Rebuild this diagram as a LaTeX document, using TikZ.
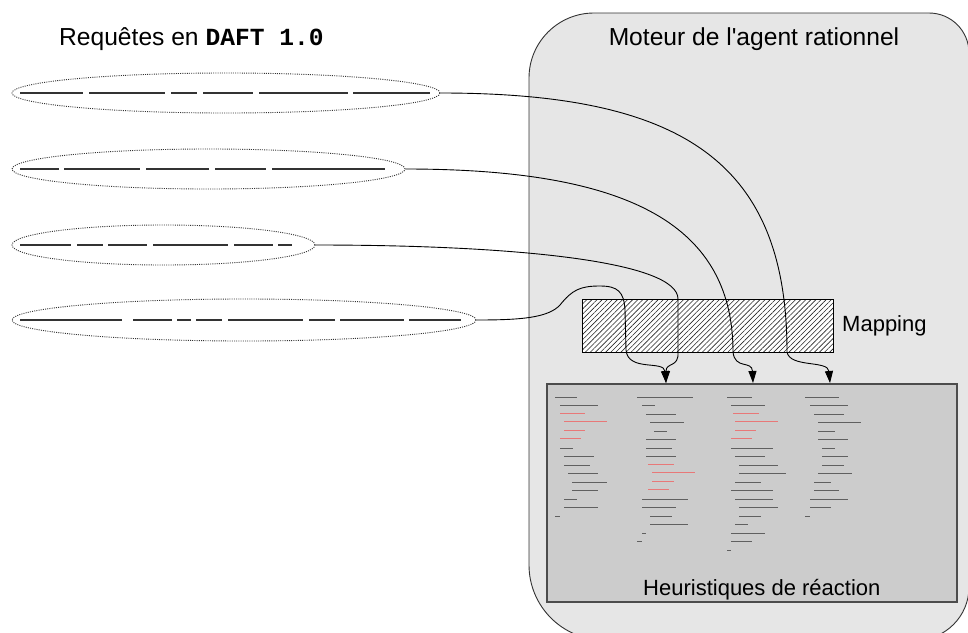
\documentclass[tikz,border=0pt]{standalone}
\usepackage{fontspec}
\setmainfont{Liberation Sans}[Ligatures=TeXOff]
\newfontfamily\monob{Liberation Mono}
\usetikzlibrary{shapes.geometric,patterns.meta,arrows.meta}
\definecolor{engfill}{HTML}{E6E6E6}
\definecolor{heurfill}{HTML}{CCCCCC}
\definecolor{codegray}{HTML}{606060}
\definecolor{codered}{HTML}{E87878}
\definecolor{qcol}{HTML}{333333}
\begin{document}
\begin{tikzpicture}[x=1pt,y=-1pt,
  req/.style={ellipse,draw=qcol,line width=0.9pt,dash pattern=on 1pt off 1.2pt,inner sep=0pt},
  qline/.style={line width=1.8pt,draw=qcol},
  conn/.style={draw=black,line width=0.9pt,-{Triangle[length=12pt,width=8pt]}},
  mapbox/.style={draw=black,line width=0.9pt,preaction={fill=white},pattern={Lines[angle=45,distance=3.6pt,line width=0.6pt]},pattern color=black!85,inner sep=0pt},
  heurbox/.style={draw=black!70,line width=1.2pt,fill=heurfill,inner sep=0pt},
  lbl/.style={inner sep=0pt,font=\fontsize{22}{26}\selectfont},
  big/.style={inner sep=0pt,font=\fontsize{24.6}{29}\selectfont},
  cg/.style={draw=codegray,line width=0.9pt},
  cr/.style={draw=codered,line width=0.9pt}]
\useasboundingbox (0,0) rectangle (968,632);
\clip (0,0) rectangle (968,632);
\fill[white] (0,0) rectangle (968,632);
% engine container
\draw[fill=engfill,draw=black!80,line width=0.9pt]
  (529,78) .. controls (529,42.1) and (558.1,13) .. (594,13)
  -- (929,13) .. controls (951.1,13) and (969,30.9) .. (969,53)
  -- (969,587) .. controls (969,616.3) and (945.3,640) .. (916,640)
  -- (604,640) .. controls (562.6,640) and (529,606.4) .. (529,565) -- cycle;
\node[big,anchor=base] (engtitle) at (754,45) {Moteur de l'agent rationnel};
% requests title
\node[big,anchor=base west] (reqtitle) at (59,45) {Requêtes en {\monob\bfseries DAFT 1.0}};
% heuristics box
\node[heurbox,minimum width=410pt,minimum height=218pt] (h) at (752,493) {};
\node[lbl,anchor=base west] (htext) at (643,595) {Heuristiques de réaction};
% code lines
\foreach \y/\a/\b/\s in {397/555/577/cg,405/560/598/cg,413/560/585/cr,421/564/607/cr,430/564/585/cr,438/560/581/cr,448/560/573/cg,456/564/594/cg,465/564/590/cg,473/568/598/cg,482/572/607/cg,490/572/598/cg,499/564/577/cg,507/564/598/cg,516/555/560/cg,
 397/637/693/cg,405/642/655/cg,414/646/676/cg,422/650/684/cg,431/654/667/cg,439/646/676/cg,448/646/672/cg,456/646/676/cg,464/648/674/cr,472/652/695/cr,481/652/674/cr,489/648/669/cr,499/642/688/cg,507/642/676/cg,516/650/672/cg,524/650/688/cg,533/642/646/cg,541/637/642/cg,
 397/727/752/cg,405/731/765/cg,413/733/759/cr,421/735/778/cr,430/735/756/cr,438/731/752/cr,448/731/773/cg,456/735/765/cg,465/739/778/cg,473/739/786/cg,482/735/761/cg,490/731/773/cg,499/735/773/cg,507/739/778/cg,516/739/761/cg,524/735/748/cg,533/731/765/cg,541/731/752/cg,550/727/731/cg,
 397/805/839/cg,405/810/848/cg,414/814/844/cg,422/818/861/cg,431/818/835/cg,439/818/848/cg,448/822/835/cg,456/822/848/cg,465/822/844/cg,473/818/852/cg,482/814/831/cg,490/814/839/cg,499/810/848/cg,507/810/831/cg,516/805/810/cg}
  \draw[\s] (\a,\y) -- (\b,\y);
% mapping box
\node[mapbox,minimum width=251pt,minimum height=53pt] (map) at (707.5,325.5) {};
\node[lbl,anchor=base west] (maptext) at (842,331) {Mapping};
% request ellipses
\node[req,minimum width=428pt,minimum height=40pt] (e1) at (226,93) {};
\node[req,minimum width=393pt,minimum height=40pt] (e2) at (208.5,169) {};
\node[req,minimum width=303pt,minimum height=40pt] (e3) at (163.5,245) {};
\node[req,minimum width=464pt,minimum height=42pt] (e4) at (244,320) {};
% dashed query contents
\draw[qline] (20,93)--(83,93) (89,93)--(165,93) (171,93)--(197,93) (203,93)--(253,93) (259,93)--(348,93) (353,93)--(430,93);
\draw[qline] (20,169)--(59,169) (64,169)--(140,169) (146,169)--(209,169) (215,169)--(266,169) (272,169)--(385,169);
\draw[qline] (20,245)--(71,245) (77,245)--(103,245) (108,245)--(147,245) (153,245)--(228,245) (234,245)--(273,245) (278,245)--(292,245);
\draw[qline] (20,320)--(122,320) (133,320)--(172,320) (177,320)--(191,320) (196,320)--(222,320) (228,320)--(303,320) (309,320)--(335,320) (340,320)--(404,320) (409,320)--(461,320);
% arrow targets on heuristics box
\coordinate (t1) at (830,383);
\coordinate (t2) at (753,383);
\coordinate (t3) at (666,383);
% connectors
\draw[conn] (e1.east) .. controls (680,93) and (787,160) .. (787,352) .. controls (790,368) and (828,360) .. (t1);
\draw[conn] (e2.east) .. controls (620,169) and (733,220) .. (733,352) .. controls (735,370) and (752,360) .. (t2);
\draw[conn] (e3.east) .. controls (520,245) and (678,262) .. (678,299) -- (678,352) .. controls (679,368) and (666,362) .. (t3);
\draw[conn] (e4.east) .. controls (520,320) and (548,318) .. (560,305) .. controls (572,290) and (580,286) .. (600,286) .. controls (618,286) and (624,292) .. (625,310) -- (626,350) .. controls (628,372) and (664,360) .. (t3);
\end{tikzpicture}
\end{document}
